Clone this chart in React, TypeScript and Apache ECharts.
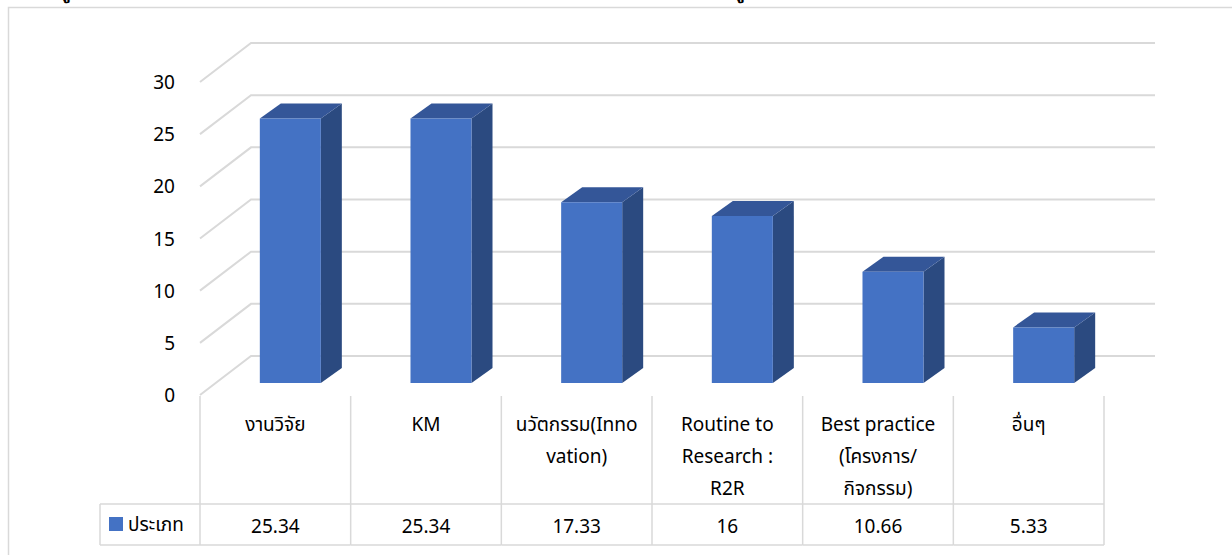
import React, { useEffect, useRef } from "react";
import * as echarts from "echarts";

const categories = [
  "งานวิจัย",
  "KM",
  "นวัตกรรม(Inno\nvation)",
  "Routine to\nResearch :\nR2R",
  "Best practice\n(โครงการ/\nกิจกรรม)",
  "อื่นๆ",
];
const values = [25.34, 25.34, 17.33, 16, 10.66, 5.33];
const valueLabels = ["25.34", "25.34", "17.33", "16", "10.66", "5.33"];
const yTicks = [0, 5, 10, 15, 20, 25, 30];
const seriesName = "ประเภท";

const FONT = "'Noto Sans', 'Noto Sans Thai', Tahoma, sans-serif";
const FS = 19;
const GRID_COLOR = "#D9D9D9";

export default function App() {
  const ref = useRef<HTMLDivElement>(null);
  useEffect(() => {
    if (!ref.current) return;
    const chart = echarts.init(ref.current, null, { renderer: "svg" });
    const wallDx = 51;
    const wallDy = -39;
    const option: any = {
      animation: false,
      backgroundColor: "#fff",
      textStyle: { fontFamily: FONT },
      grid: { left: 200, right: 128, top: 82, bottom: 160 },
      legend: {
        data: [{ name: seriesName, icon: "rect" }],
        left: 109,
        top: 514,
        padding: 0,
        itemWidth: 14,
        itemHeight: 14,
        itemGap: 5,
        selectedMode: false,
        textStyle: { fontSize: FS, color: "#000", lineHeight: 20, fontFamily: FONT },
      },
      xAxis: {
        type: "category",
        data: categories,
        axisLine: { show: false },
        axisTick: { show: false },
        splitLine: { show: false },
        axisLabel: {
          margin: 13,
          fontSize: FS,
          lineHeight: 32,
          color: "#000",
          verticalAlign: "top",
          interval: 0,
          fontFamily: FONT,
        },
      },
      yAxis: {
        type: "value",
        min: 0,
        max: 30,
        interval: 5,
        axisLine: { show: false },
        axisTick: { show: false },
        splitLine: { show: false },
        axisLabel: { margin: 25, fontSize: FS, color: "#000", padding: [5, 0, 0, 0], fontFamily: FONT },
      },
      graphic: [
        {
          type: "rect",
          shape: { x: 8.5, y: 7.5, width: 1400, height: 700 },
          style: { fill: "none", stroke: GRID_COLOR, lineWidth: 1.5 },
          silent: true,
        },
        {
          type: "text",
          x: 60,
          y: -17,
          style: { text: "ปู", fontSize: 18, fontWeight: "bold", fill: "#000", fontFamily: FONT },
          silent: true,
        },
        {
          type: "text",
          x: 734,
          y: -17,
          style: { text: "ปู", fontSize: 18, fontWeight: "bold", fill: "#000", fontFamily: FONT },
          silent: true,
        },
      ],
      series: [
        {
          type: "custom",
          name: "wall",
          z: 1,
          silent: true,
          data: yTicks.map((t) => [0, t]),
          encode: { x: 0, y: 1 },
          renderItem: (params: any, api: any) => {
            const cs = params.coordSys;
            const y = api.coord([0, api.value(1)])[1];
            const L = cs.x;
            const R = cs.x + cs.width;
            return {
              type: "polyline",
              shape: {
                points: [
                  [L, y],
                  [L + wallDx, y + wallDy],
                  [R + wallDx, y + wallDy],
                ],
              },
              style: { stroke: GRID_COLOR, lineWidth: 2, fill: "none" },
            };
          },
        },
        {
          type: "custom",
          name: seriesName,
          z: 3,
          itemStyle: { color: "#4472C4" },
          data: values.map((v, i) => [i, v]),
          encode: { x: 0, y: 1 },
          renderItem: (params: any, api: any) => {
            const i = api.value(0);
            const v = api.value(1);
            const base = api.coord([i, 0]);
            const top = api.coord([i, v]);
            const band = api.size([1, 0])[0];
            const w = band * 0.405;
            const fx = 15;
            const fy = -12;
            const dx = 21;
            const dy = -15;
            const cx = base[0] + fx;
            const x0 = cx - w / 2;
            const x1 = cx + w / 2;
            const yb = base[1] + fy;
            const yt = top[1] + fy;
            return {
              type: "group",
              children: [
                {
                  type: "polygon",
                  shape: { points: [[x1, yt], [x1 + dx, yt + dy], [x1 + dx, yb + dy], [x1, yb]] },
                  style: { fill: "#2B4A80" },
                },
                {
                  type: "polygon",
                  shape: { points: [[x0, yt], [x0 + dx, yt + dy], [x1 + dx, yt + dy], [x1, yt]] },
                  style: { fill: "#345698" },
                },
                {
                  type: "rect",
                  shape: { x: x0, y: yt, width: w, height: yb - yt },
                  style: { fill: "#4472C4" },
                },
              ],
            };
          },
        },
        {
          type: "custom",
          name: "table",
          z: 2,
          silent: true,
          data: values.map((v, i) => [i, v]),
          encode: { x: 0, y: 1 },
          renderItem: (params: any, api: any) => {
            const i = api.value(0);
            const cs = params.coordSys;
            const c = api.coord([i, 0]);
            const band = api.size([1, 0])[0];
            const xl = c[0] - band / 2;
            const xr = c[0] + band / 2;
            const yTop = cs.y + cs.height + 1;
            const yMid = 504;
            const yBot = 545;
            const ls = { stroke: GRID_COLOR, lineWidth: 1.5 };
            const children: any[] = [
              { type: "line", shape: { x1: xl, y1: yTop, x2: xl, y2: yBot }, style: ls },
              { type: "line", shape: { x1: xl, y1: yMid, x2: xr, y2: yMid }, style: ls },
              { type: "line", shape: { x1: xl, y1: yBot, x2: xr, y2: yBot }, style: ls },
              {
                type: "text",
                x: c[0],
                y: (yMid + yBot) / 2 + 1,
                style: {
                  text: valueLabels[i],
                  fontSize: FS,
                  fill: "#000",
                  align: "center",
                  verticalAlign: "middle",
                  fontFamily: FONT,
                },
              },
            ];
            if (i === values.length - 1) {
              children.push({ type: "line", shape: { x1: xr, y1: yTop, x2: xr, y2: yBot }, style: ls });
            }
            if (i === 0) {
              children.push({ type: "line", shape: { x1: 100, y1: yMid, x2: xl, y2: yMid }, style: ls });
              children.push({ type: "line", shape: { x1: 100, y1: yBot, x2: xl, y2: yBot }, style: ls });
              children.push({ type: "line", shape: { x1: 100, y1: yMid, x2: 100, y2: yBot }, style: ls });
            }
            return { type: "group", children };
          },
        },
      ],
    };
    chart.setOption(option);
    return () => chart.dispose();
  }, []);
  return (
    <div
      ref={ref}
      style={{ position: "fixed", left: 0, top: 0, width: 1232, height: 555 }}
    />
  );
}
